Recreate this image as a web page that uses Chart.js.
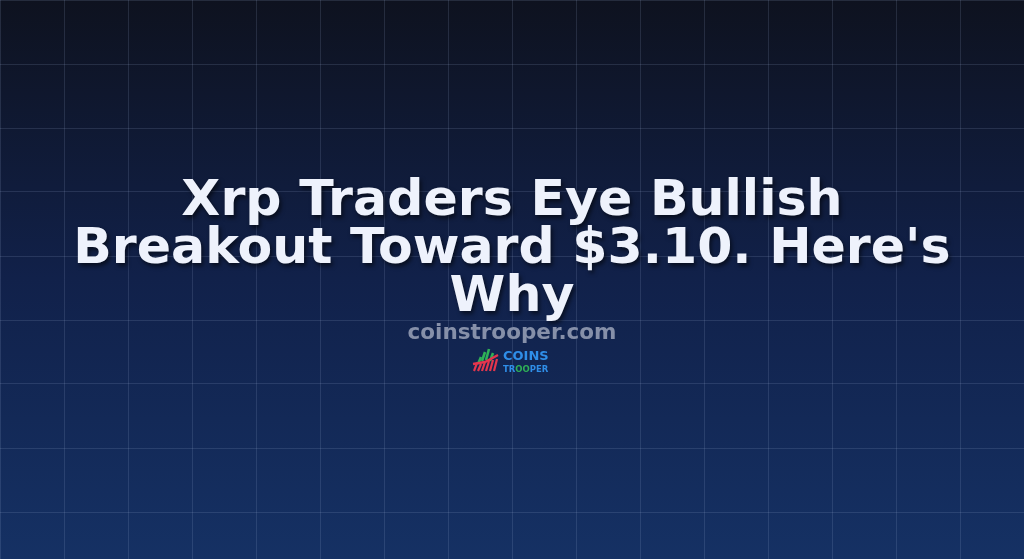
<!DOCTYPE html>
<html>
<head>
<meta charset="utf-8">
<script src="https://cdn.jsdelivr.net/npm/chart.js@4"></script>
<style>
  html, body { margin: 0; padding: 0; background: #0e121f; }
  #wrap { width: 1024px; height: 559px; position: relative; }
</style>
</head>
<body>
<div id="wrap"><canvas id="card"></canvas></div>
<script>
const titleLines = ["Xrp Traders Eye Bullish", "Breakout Toward $3.10. Here's", "Why"];
const siteLabel = "coinstrooper.com";
const logoWords = ["COINS", "TR", "OO", "PER"];
const gridColumns = 16;
const gridRows = 559 / 64;

const cardPlugin = {
  id: "card",
  beforeDraw(chart) {
    const { ctx, width, height } = chart;
    let g = ctx.createLinearGradient(0, 0, 0, height);
    g.addColorStop(0, "#0e121f");
    g.addColorStop(0.5, "#11214a");
    g.addColorStop(1, "#153164");
    ctx.save();
    ctx.fillStyle = g;
    ctx.fillRect(0, 0, width, height);
    ctx.restore();
  },
  afterDraw(chart) {
    const { ctx, width } = chart;
    const cx = width / 2;
    ctx.save();
    ctx.textAlign = "center";
    ctx.textBaseline = "alphabetic";
    ctx.font = "bold 50.6px 'DejaVu Sans'";
    ctx.shadowColor = "rgba(0,0,0,0.55)";
    ctx.shadowOffsetX = 2;
    ctx.shadowOffsetY = 3;
    ctx.shadowBlur = 4;
    ctx.fillStyle = "#eef2fc";
    titleLines.forEach((line, i) => ctx.fillText(line, cx, 215 + i * 48));

    ctx.shadowColor = "transparent";
    ctx.font = "bold 21.5px 'DejaVu Sans'";
    ctx.fillStyle = "#8690a9";
    ctx.fillText(siteLabel, cx, 339);

    // small logo: slanted bars + words
    const lx = 473, ly = 371;
    ctx.lineCap = "butt";
    ctx.lineWidth = 2.6;
    const green = [[5, 14, 7], [9, 19, 9], [13, 22, 11], [17, 18, 8]];
    green.forEach(([dx, top, len]) => {
      ctx.strokeStyle = "#2fb157";
      ctx.beginPath();
      ctx.moveTo(lx + dx, ly - top + len);
      ctx.lineTo(lx + dx + 3, ly - top);
      ctx.stroke();
    });
    const red = [[1, 8], [5, 7], [9, 9], [13, 10], [17, 11], [21, 12]];
    ctx.lineWidth = 2.2;
    red.forEach(([dx, len]) => {
      ctx.strokeStyle = "#e5364d";
      ctx.beginPath();
      ctx.moveTo(lx + dx, ly);
      ctx.lineTo(lx + dx + 3, ly - len);
      ctx.stroke();
    });
    ctx.strokeStyle = "#e5364d";
    ctx.lineWidth = 2.5;
    ctx.beginPath();
    ctx.moveTo(lx, ly - 7);
    ctx.lineTo(lx + 12, ly - 9);
    ctx.lineTo(lx + 25, ly - 16);
    ctx.stroke();

    ctx.textAlign = "left";
    ctx.font = "bold 13px 'DejaVu Sans'";
    ctx.fillStyle = "#2f8ee8";
    ctx.fillText(logoWords[0], 503, 360);
    ctx.font = "bold 8.5px 'DejaVu Sans'";
    let x = 503;
    ctx.fillText(logoWords[1], x, 372);
    x += ctx.measureText(logoWords[1]).width;
    ctx.fillStyle = "#2fb157";
    ctx.fillText(logoWords[2], x, 372);
    x += ctx.measureText(logoWords[2]).width;
    ctx.fillStyle = "#2f8ee8";
    ctx.fillText(logoWords[3], x, 372);
    ctx.restore();
  }
};

new Chart(document.getElementById("card"), {
  type: "scatter",
  data: { datasets: [{ data: [] }] },
  options: {
    responsive: true,
    maintainAspectRatio: false,
    animation: false,
    layout: { padding: 0 },
    plugins: { legend: { display: false }, tooltip: { enabled: false } },
    scales: {
      x: {
        min: 0, max: gridColumns,
        ticks: { display: false, stepSize: 1 },
        grid: { color: "rgba(160,180,220,0.16)", drawTicks: false },
        border: { display: false }
      },
      y: {
        min: 0, max: gridRows, reverse: true,
        ticks: { display: false, stepSize: 1 },
        grid: { color: "rgba(160,180,220,0.16)", drawTicks: false },
        border: { display: false }
      }
    }
  },
  plugins: [cardPlugin]
});
</script>
</body>
</html>
